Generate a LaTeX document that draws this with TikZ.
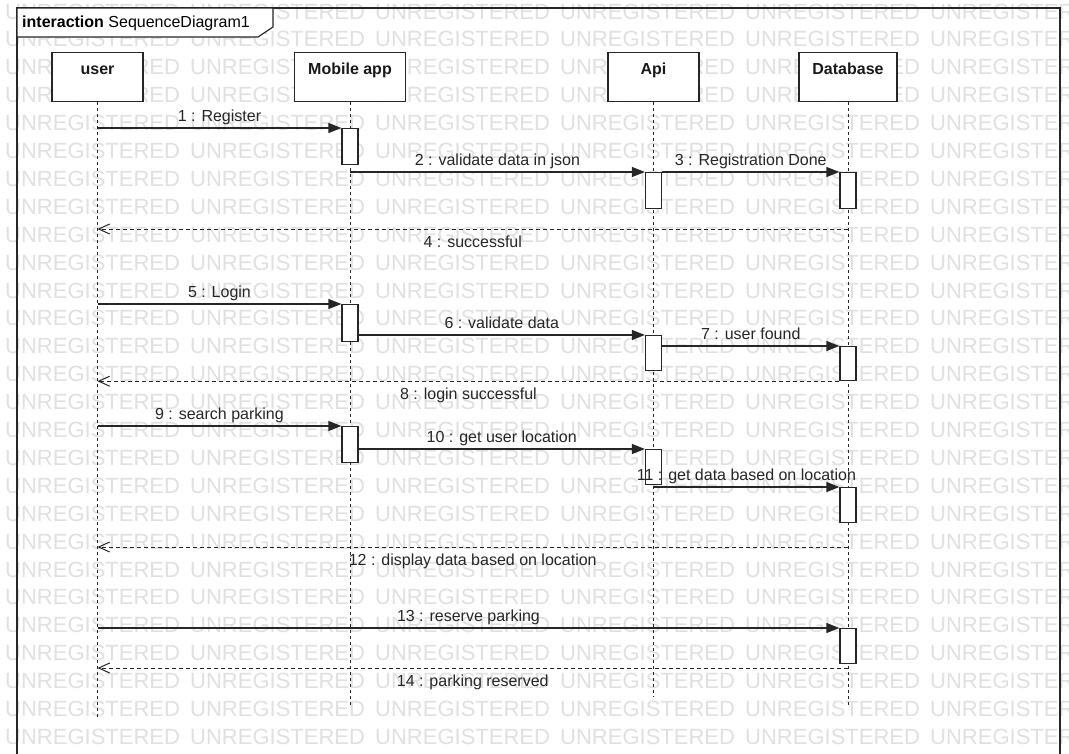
\documentclass[tikz,border=0pt]{standalone}
\usepackage{fontspec}
\setmainfont{Liberation Sans}
\usetikzlibrary{arrows.meta}
\tikzset{
  wm/.style={text=black!12, font=\fontsize{22}{26}\selectfont, inner sep=0pt, anchor=west},
  frame/.style={draw=black!85, line width=1.2pt},
  head/.style={draw=black!85, line width=1.2pt, fill=white, font=\fontsize{16}{19}\selectfont\bfseries,
    text=black!90, text height=18pt, text depth=23pt, inner sep=4pt, anchor=north},
  act/.style={draw=black!85, line width=1.2pt, fill=white, minimum width=16pt, inner sep=0pt, anchor=north},
  lifeline/.style={draw=black!85, line width=1pt, dash pattern=on 3pt off 3pt},
  msg/.style={draw=black!85, line width=1.2pt, -{Triangle[length=13pt,width=10pt]}},
  ret/.style={draw=black!85, line width=1pt, dash pattern=on 4pt off 3pt, -{Straight Barb[length=11pt,width=10pt]}},
  lbl/.style={text=black!85, font=\fontsize{16}{19}\selectfont, text height=11.5pt, text depth=3.5pt, inner sep=2.5pt},
}
\begin{document}
\begin{tikzpicture}[x=1pt, y=-1pt]
  \useasboundingbox (0,0) rectangle (1069,753);
  \fill[white] (0,0) rectangle (1069,753);
  \foreach \r in {0,...,26}
    \foreach \c in {0,...,5}
      \node[wm] (wm-\r-\c) at (5+185*\c, 11.5+27.9*\r) {UNREGISTERED};

  \draw[frame] (17,760) -- (17,8) -- (1060,8) -- (1060,760);
  \draw[frame, fill=white] (17,8) -- (273,8) -- (273,27) -- (258,37) -- (17,37) -- cycle;
  \node[lbl, anchor=base west, inner sep=0pt, text=black] (title) at (22,27.5)
    {\textbf{interaction} SequenceDiagram1};

  \node[head, minimum width=91pt] (user) at (97.5,52) {user};
  \node[head, minimum width=111pt] (app) at (350,52) {Mobile app};
  \node[head, minimum width=91pt] (api) at (653.5,52) {Api};
  \node[head, minimum width=98pt] (db) at (848,52) {Database};

  \coordinate (userEnd) at (97.5,718);
  \coordinate (appEnd) at (350,705);
  \coordinate (apiEnd) at (653.5,697);
  \coordinate (dbEnd) at (848,705);
  \draw[lifeline] (user.south) -- (userEnd);
  \draw[lifeline] (app.south) -- (appEnd);
  \draw[lifeline] (api.south) -- (apiEnd);
  \draw[lifeline] (db.south) -- (dbEnd);

  \node[act, minimum height=36pt] (a1) at (350,128) {};
  \node[act, minimum height=36pt] (a2) at (653.5,172) {};
  \node[act, minimum height=36pt] (a3) at (848,172) {};
  \node[act, minimum height=37pt] (a5) at (350,304) {};
  \node[act, minimum height=35pt] (a6) at (653.5,335) {};
  \node[act, minimum height=34pt] (a7) at (848,346) {};
  \node[act, minimum height=36pt] (a9) at (350,426) {};
  \node[act, minimum height=35pt] (a10) at (653.5,449) {};
  \node[act, minimum height=35pt] (a11) at (848,487) {};
  \node[act, minimum height=35pt] (a13) at (848,628) {};

  \coordinate (r4) at (0,229);
  \coordinate (r12) at (0,547);
  \coordinate (r14) at (0,668);

  \draw[msg] (user.center |- a1.north) -- node[lbl, above] {1 : Register} (a1.north west);
  \draw[msg] (app.center |- a2.north) -- node[lbl, above] {2 : validate data in json} (a2.north west);
  \draw[msg] (a2.north east) -- node[lbl, above] {3 : Registration Done} (a3.north west);
  \draw[ret] (db.center |- r4) -- node[lbl, below=3.5pt] {4 : successful} (user.center |- r4);
  \draw[msg] (user.center |- a5.north) -- node[lbl, above] {5 : Login} (a5.north west);
  \draw[msg] (a5.east |- a6.north) -- node[lbl, above] {6 : validate data} (a6.north west);
  \draw[msg] (a6.east |- a7.north) -- node[lbl, above] {7 : user found} (a7.north west);
  \draw[ret] (a7.south west) -- node[lbl, below=3.5pt] {8 : login successful} (user.center |- a7.south);
  \draw[msg] (user.center |- a9.north) -- node[lbl, above] {9 : search parking} (a9.north west);
  \draw[msg] (a9.east |- a10.north) -- node[lbl, above] {10 : get user location} (a10.north west);
  \draw[msg] (api.center |- a11.north) -- node[lbl, above] {11 : get data based on location} (a11.north west);
  \draw[ret] (db.center |- r12) -- node[lbl, below=3.5pt] {12 : display data based on location} (user.center |- r12);
  \draw[msg] (user.center |- a13.north) -- node[lbl, above] {13 : reserve parking} (a13.north west);
  \draw[ret] (db.center |- r14) -- node[lbl, below=3.5pt] {14 : parking reserved} (user.center |- r14);
\end{tikzpicture}
\end{document}
